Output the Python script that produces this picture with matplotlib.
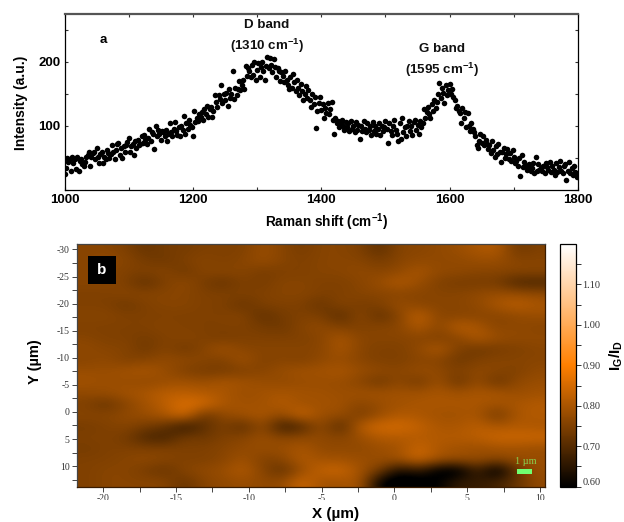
import numpy as np
import matplotlib
matplotlib.use("Agg")
import matplotlib.pyplot as plt
from matplotlib.colors import LinearSegmentedColormap
from matplotlib.patches import Rectangle
from matplotlib.ticker import MultipleLocator, FixedLocator, FormatStrFormatter
from matplotlib.transforms import Bbox

plt.rcParams['font.family'] = ['Liberation Sans', 'DejaVu Sans']
plt.rcParams['mathtext.fontset'] = 'custom'
plt.rcParams['mathtext.bf'] = 'Liberation Sans:bold'
plt.rcParams['mathtext.rm'] = 'Liberation Sans:bold'
plt.rcParams['axes.unicode_minus'] = False

W, H = 624, 522

# Raman spectrum, one point every 2 cm-1
raman_shift = np.arange(1000, 1802, 2)
intensity = [
    25, 35, 50, 44, 48, 30, 51, 42, 48, 33,
    52, 30, 46, 49, 40, 38, 44, 51, 55, 60,
    37, 52, 58, 60, 48, 66, 52, 42, 56, 60,
    42, 52, 48, 62, 58, 50, 56, 70, 60, 48,
    62, 72, 74, 55, 66, 50, 68, 60, 70, 75,
    82, 60, 68, 72, 54, 76, 66, 78, 70, 72,
    84, 74, 86, 78, 72, 82, 96, 76, 90, 88,
    64, 100, 84, 94, 88, 78, 92, 90, 84, 94,
    76, 88, 104, 90, 84, 96, 106, 92, 86, 98,
    84, 100, 94, 116, 88, 104, 96, 110, 102, 98,
    84, 124, 106, 112, 108, 118, 114, 122, 110, 126,
    118, 132, 114, 126, 130, 114, 124, 148, 138, 130,
    148, 142, 164, 136, 150, 140, 152, 132, 158, 144,
    150, 186, 142, 160, 148, 158, 170, 156, 164, 172,
    158, 194, 178, 190, 186, 176, 196, 180, 200, 172,
    188, 198, 176, 192, 200, 186, 172, 194, 208, 190,
    206, 196, 184, 204, 192, 176, 190, 186, 170, 184,
    178, 168, 186, 172, 164, 158, 176, 160, 182, 168,
    154, 172, 160, 148, 166, 154, 140, 150, 162, 144,
    156, 140, 130, 150, 134, 146, 97, 124, 136, 146,
    125, 134, 112, 128, 120, 136, 118, 126, 138, 110,
    87, 112, 105, 108, 98, 104, 110, 100, 94, 106,
    98, 104, 92, 108, 96, 100, 90, 106, 94, 102,
    80, 100, 92, 108, 96, 90, 104, 94, 100, 86,
    106, 92, 100, 88, 96, 104, 86, 100, 92, 98,
    108, 96, 73, 104, 92, 86, 100, 110, 94, 88,
    76, 104, 80, 112, 90, 98, 84, 100, 108, 92,
    100, 86, 106, 110, 94, 102, 88, 108, 98, 104,
    126, 112, 122, 130, 118, 112, 134, 124, 140, 128,
    138, 150, 167, 144, 160, 152, 136, 164, 148, 156,
    166, 150, 158, 146, 140, 128, 132, 124, 120, 105,
    128, 112, 122, 98, 120, 100, 92, 105, 96, 90,
    84, 70, 65, 76, 88, 74, 84, 70, 78, 72,
    64, 70, 58, 76, 62, 52, 68, 56, 72, 60,
    44, 60, 66, 50, 56, 64, 48, 58, 46, 62,
    52, 42, 46, 38, 50, 22, 55, 36, 44, 38,
    32, 36, 40, 30, 34, 42, 26, 51, 30, 40,
    32, 34, 30, 38, 26, 42, 36, 32, 44, 28,
    38, 32, 24, 42, 28, 36, 46, 30, 26, 38,
    40, 15, 30, 44, 26, 34, 24, 38, 28, 20,
    26,
]

# IG/ID map (x100), rows run from y=-31 to y=13.8, columns from x=-21.8 to x=10.35
map_values = np.array([
    [76, 76, 75, 72, 74, 74, 75, 75, 75, 78, 76, 74, 76, 76, 75, 71, 76, 76, 77, 78, 80, 81, 73, 75],
    [76, 77, 76, 74, 73, 75, 76, 75, 76, 78, 76, 75, 76, 76, 76, 74, 76, 77, 77, 77, 78, 78, 76, 76],
    [76, 76, 75, 75, 76, 73, 76, 76, 76, 74, 75, 75, 76, 76, 77, 76, 77, 80, 77, 77, 76, 76, 76, 76],
    [76, 76, 75, 71, 75, 77, 74, 72, 75, 74, 76, 76, 75, 75, 76, 78, 81, 78, 75, 74, 74, 74, 69, 69],
    [75, 75, 76, 76, 76, 76, 75, 75, 75, 75, 76, 76, 75, 75, 76, 76, 76, 76, 76, 76, 77, 78, 78, 77],
    [75, 75, 73, 75, 76, 76, 75, 75, 72, 75, 75, 75, 72, 76, 74, 75, 78, 76, 76, 76, 77, 80, 82, 80],
    [76, 76, 75, 75, 75, 75, 75, 75, 76, 71, 74, 75, 75, 70, 77, 71, 76, 83, 76, 76, 76, 76, 77, 78],
    [75, 75, 75, 75, 76, 75, 75, 75, 75, 74, 73, 76, 77, 75, 75, 76, 76, 81, 76, 82, 80, 76, 77, 76],
    [76, 75, 75, 74, 75, 76, 75, 74, 75, 75, 75, 75, 76, 80, 76, 76, 76, 76, 75, 76, 81, 78, 77, 77],
    [77, 76, 76, 73, 76, 73, 76, 79, 76, 76, 76, 76, 76, 80, 76, 75, 75, 77, 81, 75, 73, 74, 75, 76],
    [76, 77, 75, 76, 77, 77, 76, 75, 79, 75, 76, 75, 77, 78, 76, 75, 75, 76, 76, 73, 75, 76, 76, 76],
    [78, 78, 79, 80, 78, 75, 74, 74, 75, 76, 78, 79, 79, 80, 78, 77, 76, 78, 77, 75, 77, 76, 75, 77],
    [79, 78, 78, 77, 78, 79, 78, 80, 79, 78, 77, 78, 78, 78, 76, 73, 77, 73, 79, 72, 78, 72, 77, 78],
    [77, 78, 79, 80, 82, 82, 81, 80, 78, 79, 80, 79, 79, 78, 79, 79, 79, 79, 80, 79, 80, 80, 78, 79],
    [75, 72, 76, 79, 82, 86, 85, 80, 79, 79, 81, 79, 79, 79, 76, 78, 79, 80, 80, 80, 80, 79, 80, 81],
    [76, 76, 77, 78, 80, 85, 72, 77, 79, 80, 77, 84, 78, 78, 74, 78, 81, 80, 79, 79, 80, 73, 80, 81],
    [74, 75, 76, 74, 72, 65, 71, 75, 70, 78, 66, 69, 78, 69, 82, 85, 85, 83, 80, 80, 82, 80, 81, 80],
    [75, 75, 74, 69, 68, 74, 73, 75, 76, 78, 76, 77, 77, 76, 78, 81, 81, 81, 81, 81, 82, 84, 84, 84],
    [74, 75, 75, 75, 75, 75, 75, 76, 77, 78, 78, 80, 77, 77, 77, 78, 79, 84, 80, 79, 78, 79, 79, 78],
    [75, 75, 76, 77, 76, 75, 75, 76, 79, 75, 76, 81, 79, 79, 78, 78, 79, 84, 79, 78, 78, 76, 78, 78],
    [75, 76, 76, 74, 72, 76, 77, 78, 81, 76, 71, 78, 83, 84, 79, 74, 62, 66, 58, 57, 68, 57, 72, 78],
    [75, 76, 76, 76, 76, 72, 76, 77, 78, 77, 77, 84, 79, 79, 80, 60, 56, 58, 60, 66, 66, 68, 72, 77],
]) / 100.0

colorbar_ticks = [0.60, 0.70, 0.80, 0.90, 1.00, 1.10]


def box(left, top, right, bottom):
    return [left / W, 1 - bottom / H, (right - left) / W, (bottom - top) / H]


def put(x, y, s, **kw):
    fig.text(x / W, 1 - y / H, s, ha='center', va='center', **kw)


fig = plt.figure(figsize=(W / 100, H / 100), dpi=100)

# panel a
ax1 = fig.add_axes(box(64.5, 14, 578, 190))
ax1.scatter(raman_shift, intensity, s=16, color='black', linewidths=0, zorder=3)
ax1.set_xlim(1000, 1800)
ax1.set_ylim(0, 275)
ax1.xaxis.set_major_locator(MultipleLocator(200))
ax1.xaxis.set_minor_locator(MultipleLocator(100))
ax1.yaxis.set_minor_locator(MultipleLocator(50))
ax1.set_yticks([100, 200])
ax1.tick_params(which='both', direction='in', top=True, right=True, length=2, width=0.8, color='#333333')
ax1.tick_params(axis='x', labelsize=9.5, pad=3)
ax1.tick_params(axis='y', labelsize=9.5, pad=3)
for lab in ax1.get_xticklabels() + ax1.get_yticklabels():
    lab.set_fontweight('bold')
for side in ax1.spines:
    ax1.spines[side].set_linewidth(0.9)
ax1.spines['top'].set_color('#555555')
ax1.spines['top'].set_linewidth(1.6)

put(103, 40, 'a', fontsize=9.5, fontweight='bold')
put(267, 25, 'D band', fontsize=9.6, fontweight='bold', color='#111111')
put(267, 46, r'(1310 cm$^{\mathbf{-1}}$)', fontsize=9.6, fontweight='bold', color='#111111')
put(442, 49, 'G band', fontsize=9.6, fontweight='bold', color='#111111')
put(442, 70, r'(1595 cm$^{\mathbf{-1}}$)', fontsize=9.6, fontweight='bold', color='#111111')
put(21, 103, 'Intensity (a.u.)', fontsize=10, fontweight='bold', rotation=90)
put(327, 222, r'Raman shift (cm$^{\mathbf{-1}}$)', fontsize=9.8, fontweight='bold')

# panel b
cmap = LinearSegmentedColormap.from_list(
    'ig_id', [(0, '#000000'), (0.5, '#ff8000'), (1, '#ffffff')])

ax2 = fig.add_axes(box(76.7, 244, 545, 486.7))
im = ax2.imshow(map_values, cmap=cmap, vmin=0.6, vmax=1.2, aspect='auto',
                interpolation='bicubic', extent=[-21.83, 10.35, 13.8, -31])
ax2.xaxis.set_major_locator(FixedLocator([-20, -15, -10, -5, 0, 5, 10]))
ax2.xaxis.set_minor_locator(MultipleLocator(2.5))
ax2.yaxis.set_major_locator(FixedLocator([-30, -25, -20, -15, -10, -5, 0, 5, 10]))
ax2.yaxis.set_minor_locator(MultipleLocator(2.5))
ax2.set_xlim(-21.83, 10.35)
ax2.set_ylim(13.8, -31)
ax2.tick_params(which='both', direction='out', length=3.5, width=0.7, color='#444444',
                labelsize=7, labelcolor='#333333')
ax2.tick_params(axis='x', pad=1.5)
ax2.tick_params(axis='y', pad=1.5)
for lab in ax2.get_xticklabels() + ax2.get_yticklabels():
    lab.set_fontfamily('Liberation Serif')
for side in ax2.spines:
    ax2.spines[side].set_linewidth(0.9)
    ax2.spines[side].set_color('#444444')
ax2.spines['bottom'].set_color('#3a1c00')
ax2.spines['right'].set_color('#3a1c00')

# tick labels of the x axis are cut at the bottom in the source figure
for lab in ax2.get_xticklabels():
    lab.set_clip_on(True)
    lab.set_clip_box(Bbox([[0, H - 500], [W, H]]))

ax2.add_patch(Rectangle(((88 - 76.7) / 468.3, 1 - (284 - 244) / 242.7), 28 / 468.3, 28 / 242.7,
                        transform=ax2.transAxes, color='black', lw=0, zorder=5))
put(102, 270, 'b', fontsize=11, fontweight='bold', color='white', zorder=6)

# scale bar
ax2.add_patch(Rectangle(((517.3 - 76.7) / 468.3, 1 - (474 - 244) / 242.7), 14.7 / 468.3, 5 / 242.7,
                        transform=ax2.transAxes, color='#70ff70', lw=0, zorder=5))
put(525.5, 461, '1 \u00b5m', fontsize=7.5, family='Liberation Serif', color='#88d050')

put(35, 362, 'Y (\u00b5m)', fontsize=10.5, fontweight='bold', rotation=90)
put(336, 514, 'X (\u00b5m)', fontsize=11, fontweight='bold')

# colour bar
cax = fig.add_axes(box(560, 244, 576, 486.7))
cb = fig.colorbar(im, cax=cax)
cb.set_ticks(colorbar_ticks)
cb.ax.yaxis.set_major_formatter(FormatStrFormatter('%.2f'))
cb.ax.yaxis.set_minor_locator(FixedLocator([0.65, 0.75, 0.85, 0.95, 1.05, 1.15]))
cb.ax.tick_params(which='both', direction='out', length=3.5, width=0.7, color='#333333',
                  labelsize=7.5, labelcolor='#333333', pad=1.2)
for lab in cb.ax.get_yticklabels():
    lab.set_fontfamily('Liberation Serif')
cb.ax.get_yticklabels()[0].set_verticalalignment('bottom')
cb.outline.set_linewidth(0.9)
cb.outline.set_edgecolor('black')
put(616, 355, r'I$_{\mathbf{G}}$/I$_{\mathbf{D}}$', fontsize=11, fontweight='bold', rotation=90)

fig.savefig('out.png', dpi=100)
